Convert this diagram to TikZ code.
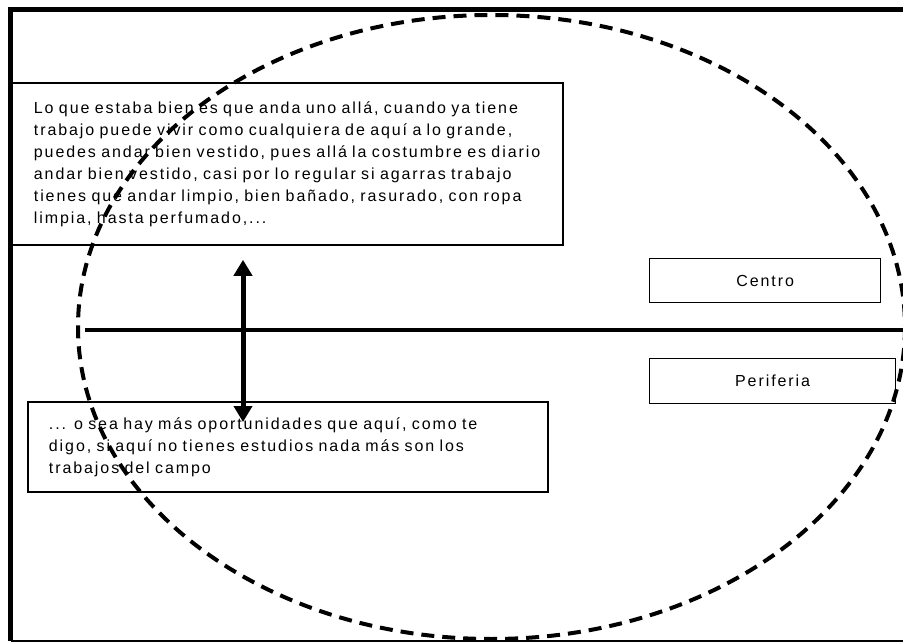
\documentclass[tikz,border=0pt]{standalone}
\usepackage{fontspec}
\setmainfont{Liberation Sans}[LetterSpace=12,WordSpace=1.5]
\usetikzlibrary{arrows.meta,calc}

\begin{document}
\begin{tikzpicture}[x=1pt,y=-1pt,
  frame/.style={line width=4.5pt},
  quote/.style={draw, line width=1.8pt, anchor=north west, align=left,
    inner ysep=0pt, font=\fontsize{16}{22}\selectfont},
  tag/.style={draw, line width=1.2pt, anchor=north west,
    font=\fontsize{16}{22}\selectfont},
  axis/.style={line width=4.5pt},
  link/.style={line width=5pt,
    {Triangle[width=18pt,length=16pt]}-{Triangle[width=18pt,length=16pt]}},
  zone/.style={line width=4pt, dash pattern=on 13pt off 8pt}
]
\useasboundingbox (0,0) rectangle (903,642);

% outer frame
\draw[frame] (903,9.5) -- (10.5,9.5) -- (10.5,641);
\draw[line width=2pt] (10.5,641) -- (903,641);

% quotations
\node[quote, text width=506pt, inner xsep=23pt, minimum height=162pt] (tb) at (10,82)
  {\mbox{Lo que estaba bien es que anda uno allá, cuando ya tiene}\\
   \mbox{trabajo puede vivir como cualquiera de aquí a lo grande,}\\
   \mbox{puedes andar bien vestido, pues allá la costumbre es diario}\\
   \mbox{andar bien vestido, casi por lo regular si agarras trabajo}\\
   \mbox{tienes que andar limpio, bien bañado, rasurado, con ropa}\\
   \mbox{limpia, hasta perfumado,...}};

\node[quote, text width=478pt, inner xsep=21pt, minimum height=90pt] (bb) at (27,401)
  {\mbox{... o sea hay más oportunidades que aquí, como te}\\
   \mbox{digo, si aquí no tienes estudios nada más son los}\\
   \mbox{trabajos del campo}};

% labels of the two halves
\node[tag, minimum width=231pt, minimum height=44pt] (centro) at (649,258) {Centro};
\node[tag, minimum width=246pt, minimum height=45pt] (periferia) at (649,358) {Periferia};

% dividing axis
\coordinate (axl) at (85,330);
\coordinate (axr) at (903,330);
\draw[axis] (axl) -- (axr);

% two-way arrow between the quotations
\coordinate (ax) at (243,0);
\draw[link] ($(tb.south -| ax)+(0,14)$) -- ($(bb.north -| ax)+(0,21)$);

% dashed zone
\draw[zone] (491.5,327) ellipse [x radius=413.5, y radius=312];
\end{tikzpicture}
\end{document}
